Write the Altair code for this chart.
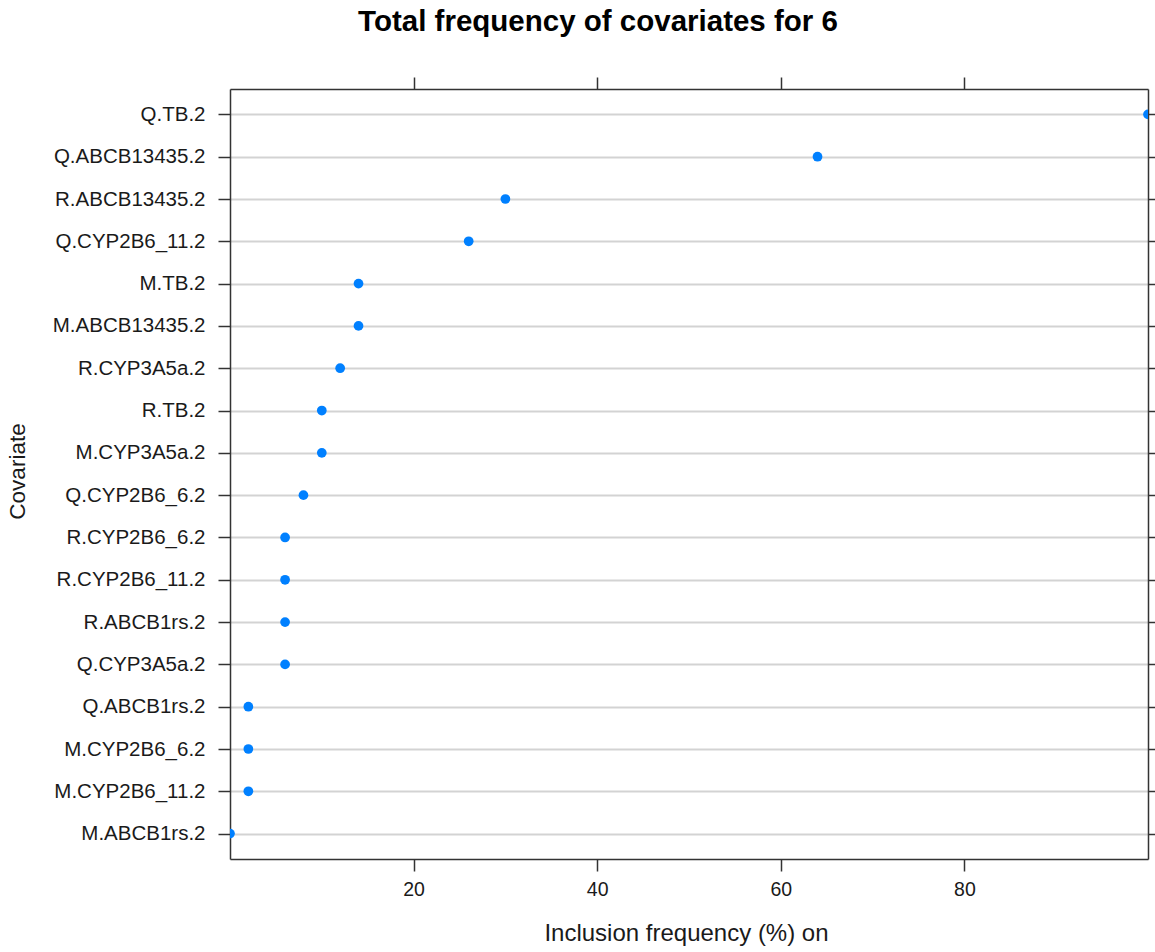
import altair as alt
import pandas as pd

covariates = [
    "Q.TB.2", "Q.ABCB13435.2", "R.ABCB13435.2", "Q.CYP2B6_11.2", "M.TB.2",
    "M.ABCB13435.2", "R.CYP3A5a.2", "R.TB.2", "M.CYP3A5a.2", "Q.CYP2B6_6.2",
    "R.CYP2B6_6.2", "R.CYP2B6_11.2", "R.ABCB1rs.2", "Q.CYP3A5a.2",
    "Q.ABCB1rs.2", "M.CYP2B6_6.2", "M.CYP2B6_11.2", "M.ABCB1rs.2",
]
frequency = [100, 64, 30, 26, 14, 14, 12, 10, 10, 8, 6, 6, 6, 6, 2, 2, 2, 0]
x_ticks = [20, 40, 60, 80]

df = pd.DataFrame({"Covariate": covariates, "Freq": frequency})

FONT = "Liberation Sans"
W, H = 918, 770

x_scale = alt.Scale(domain=[0, 100], nice=False, zero=False)
y_scale = alt.Scale(type="point", padding=0.6)

base = alt.Chart(df)

points = base.mark_circle(size=95, color="#0080ff", opacity=1, clip=True).encode(
    x=alt.X("Freq:Q", scale=x_scale,
            axis=alt.Axis(orient="bottom", values=x_ticks, grid=False,
                          title="Inclusion frequency (%) on",
                          titleX=W / 2 - 3, titleY=74, titleBaseline="middle",
                          titleFontSize=24, titleFontWeight="normal",
                          labelFontSize=19.5, labelPadding=9,
                          tickSize=12, tickWidth=1.5, tickColor="#333",
                          domainColor="#333", domainWidth=1.5)),
    y=alt.Y("Covariate:N", sort=covariates, scale=y_scale,
            axis=alt.Axis(orient="left", grid=True, gridColor="#d3d3d3", gridWidth=2,
                          title="Covariate", titleAngle=-90, titleX=-213, titleY=H / 2 - 3,
                          titleAlign="center", titleBaseline="middle",
                          titleFontSize=22.5, titleFontWeight="normal",
                          labelFontSize=20.5, labelPadding=13,
                          tickSize=12, tickWidth=1.5, tickColor="#333",
                          domainColor="#333", domainWidth=1.5)),
)

frame = base.mark_circle(opacity=0).encode(
    x=alt.X("Freq:Q", scale=x_scale,
            axis=alt.Axis(orient="top", values=x_ticks, grid=False, labels=False, title=None,
                          tickSize=12, tickWidth=1.5, tickColor="#333",
                          domainColor="#333", domainWidth=1.5)),
    y=alt.Y("Covariate:N", sort=covariates, scale=y_scale,
            axis=alt.Axis(orient="right", grid=False, labels=False, title=None,
                          tickSize=12, tickWidth=1.5, tickColor="#333",
                          domainColor="#333", domainWidth=1.5)),
)

chart = alt.layer(points, frame).resolve_axis(x="independent", y="independent").properties(
    width=W, height=H,
    autosize=alt.AutoSizeParams(type="none"),
    padding={"left": 230, "top": 89, "right": 7, "bottom": 93},
    title=alt.TitleParams("Total frequency of covariates for 6", fontSize=29.5, fontWeight="bold",
                          anchor="middle", dx=-91, offset=39, color="#000", font=FONT),
).configure_view(stroke=None).configure_axis(
    labelFont=FONT, titleFont=FONT, labelColor="#1a1a1a", titleColor="#1a1a1a"
)

chart.save("out.html", embed_options={"renderer": "svg", "actions": False})
